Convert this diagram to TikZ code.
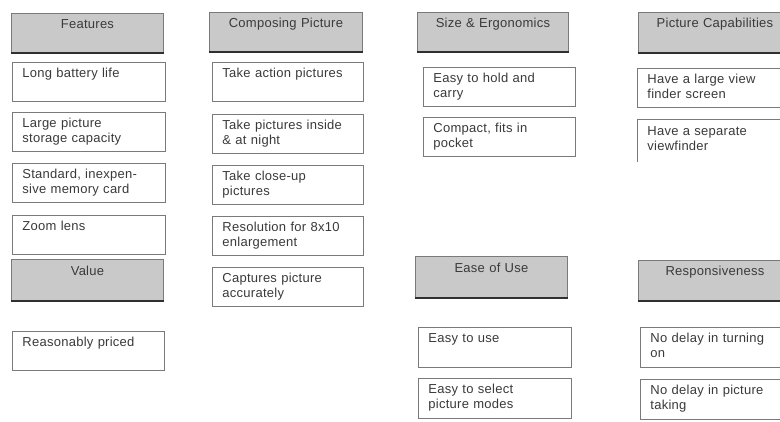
\documentclass[tikz,border=0pt]{standalone}
\usepackage{fontspec}
\setmainfont{Liberation Sans}[LetterSpace=2]
\definecolor{txt}{HTML}{3A3A3A}
\definecolor{hdrfill}{HTML}{C9C9C9}
\definecolor{edge}{HTML}{7A7A7A}
\definecolor{dark}{HTML}{303030}
\tikzset{
  cell/.style={anchor=north west, draw=edge, line width=0.9pt, fill=white,
    inner xsep=10pt, inner ysep=1.5pt, text height=13.5pt, text depth=22.5pt,
    align=left, text=txt, font=\fontsize{13pt}{15pt}\selectfont},
  hdr/.style={cell, fill=hdrfill, align=center},
  shadowline/.style={draw=dark, line width=1.6pt}
}
\begin{document}
\begin{tikzpicture}[x=1pt,y=-1pt]
\useasboundingbox (0,0) rectangle (780,421);
\clip (0,0) rectangle (780,421);
\fill[white] (0,0) rectangle (780,421);
% Column 1
\node[hdr, text width=132pt, minimum height=39pt] (h1) at (11,13) {Features};
\node[cell, text width=133pt, minimum height=38pt] (a1) at (12,62) {Long battery life};
\node[cell, text width=133pt, minimum height=39pt] (a2) at (12,112) {Large picture\\storage capacity};
\node[cell, text width=133pt, minimum height=39pt] (a3) at (12,163) {Standard, inexpen-\\sive memory card};
\node[cell, text width=133pt, minimum height=39pt] (a4) at (12,215) {Zoom lens};
\node[hdr, text width=132pt, minimum height=41pt] (h5) at (11,259) {Value};
\node[cell, text width=132pt, minimum height=39pt] (e1) at (12,331) {Reasonably priced};
% Column 2
\node[hdr, text width=133pt, minimum height=39pt] (h2) at (209,12) {Composing Picture};
\node[cell, text width=131pt, minimum height=39pt] (b1) at (212,62) {Take action pictures};
\node[cell, text width=131pt, minimum height=39pt] (b2) at (212,114) {Take pictures inside\\\& at night};
\node[cell, text width=131pt, minimum height=39pt] (b3) at (212,165) {Take close-up\\pictures};
\node[cell, text width=131pt, minimum height=39pt] (b4) at (212,216) {Resolution for 8x10\\enlargement};
\node[cell, text width=131pt, minimum height=39pt] (b5) at (212,267) {Captures picture\\accurately};
% Column 3
\node[hdr, text width=131pt, minimum height=39pt] (h3) at (417,12) {Size \& Ergonomics};
\node[cell, text width=132pt, minimum height=39pt] (c1) at (423,67) {Easy to hold and\\carry};
\node[cell, text width=132pt, minimum height=39pt] (c2) at (423,117) {Compact, fits in\\pocket};
\node[hdr, text width=132pt, minimum height=41pt] (h6) at (415,256) {Ease of Use};
\node[cell, text width=133pt, minimum height=40pt] (f1) at (418,327) {Easy to use};
\node[cell, text width=133pt, minimum height=40pt] (f2) at (418,378) {Easy to select\\picture modes};
% Column 4
\node[hdr, text width=133pt, minimum height=40pt] (h4) at (638,12) {Picture Capabilities};
\node[cell, text width=133pt, minimum height=39pt] (d1) at (637,68) {Have a large view\\finder screen};
\node[cell, draw=none, text width=133pt, minimum height=42pt] (d2) at (637,119) {Have a separate\\viewfinder};
\draw[edge, line width=0.9pt] (d2.south west) -- (d2.north west) -- (d2.north east);
\node[hdr, text width=133pt, minimum height=40pt] (h7) at (638,260) {Responsiveness};
\node[cell, text width=133pt, minimum height=40pt] (g1) at (640,327) {No delay in turning\\on};
\node[cell, text width=133pt, minimum height=40pt] (g2) at (640,379) {No delay in picture\\taking};
% darker bottom edges of header boxes
\foreach \n in {h1,h2,h3,h4,h5,h6,h7}
  \draw[shadowline] (\n.south west) -- (\n.south east);
\end{tikzpicture}
\end{document}
